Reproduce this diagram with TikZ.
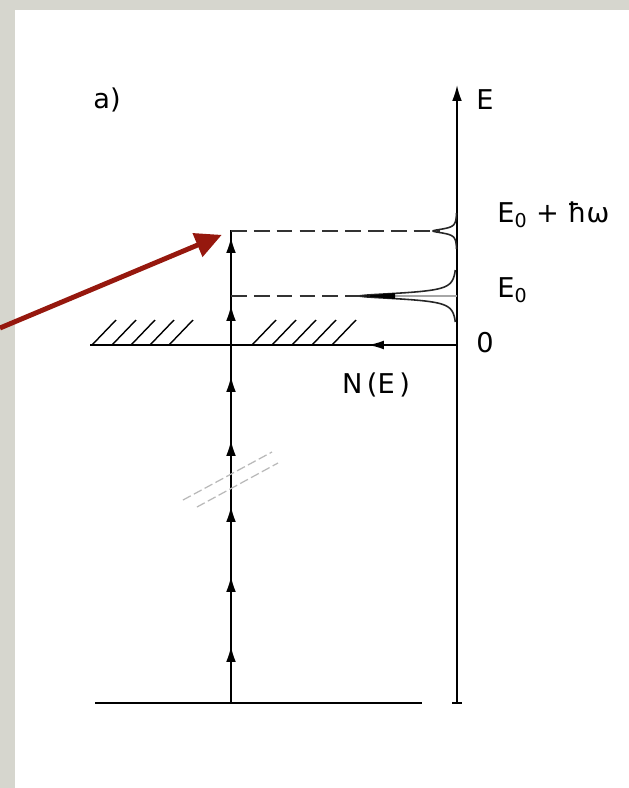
\documentclass[tikz,border=0pt]{standalone}
\usepackage{fontspec}
\setmainfont{DejaVu Sans}
\usepackage{tikz}
\usetikzlibrary{arrows.meta, calc}
\definecolor{bggray}{RGB}{214,214,206}
\definecolor{markred}{RGB}{150,24,14}
\tikzset{
    lbl/.style={font=\fontsize{15.5}{18}\selectfont, inner sep=0pt},
    lvl/.style={line width=1pt, dash pattern=on 9pt off 4pt, black!80},
    peak/.style={line width=0.9pt, black!85},
    hatch/.style={line width=0.8pt},
    uptip/.style={line width=1pt, -{Latex[length=9pt, width=5.5pt]}}
}

\begin{document}
\begin{tikzpicture}[x=0.02cm, y=-0.02cm]
    \useasboundingbox (0,0) rectangle (629,788);
    \fill[bggray] (0,0) rectangle (629,788);
    \fill[white] (15,10) rectangle (629,788);

    % --- axes and ground level ---
    \coordinate (axtop) at (457,85);
    \coordinate (axbot) at (457,703);
    \coordinate (axzero) at (457,345);
    \coordinate (gndL) at (95,703);
    \coordinate (gndR) at (422,703);
    \coordinate (zeroL) at (90,345);
    \coordinate (exctop) at (231,231);
    \coordinate (excbot) at (231,703);
    \coordinate (pointer) at (0,328);

    \draw[line width=1pt, -{Latex[length=9pt, width=5.5pt]}] (axbot) -- (axtop);
    \draw[line width=1pt] ($(axbot)+(-5,0)$) -- ($(axbot)+(5,0)$);
    \draw[line width=1.1pt] (gndL) -- (gndR);
    \draw[line width=1pt] (zeroL) -- (axzero);
    \draw[line width=1pt, -{Latex[length=9pt, width=5pt]}] (axzero) -- (368,345);

    % hatching above the zero level
    \foreach \x in {92,112,131,150,169,252,272,292,312,332}
        \draw[hatch] (\x,345) -- ++(24,-25);

    % --- excitation ladder ---
    \draw[line width=1pt] (excbot) -- (exctop) -- ++(10,0);
    \draw[line width=1pt] (231,296) -- ++(10,0);
    \foreach \y in {237,305,376,440,506,576,646}
        \draw[uptip] (231,\y+12) -- (231,\y);

    % break mark
    \draw[gray!55, line width=0.7pt, dash pattern=on 5pt off 2pt] (183,500) -- (272,452);
    \draw[gray!55, line width=0.7pt, dash pattern=on 5pt off 2pt] (197,507) -- (278,463);

    % --- levels and line shapes ---
    \draw[lvl] (exctop) -- (440,231);
    \draw[lvl] (231,296) -- (362,296);
    \draw[gray!70, line width=0.8pt] (362,296) -- (457,296);
    \draw[peak] plot[domain=270:322, samples=90] ({457 - 97/(1+(\x-296)*(\x-296)/12.25)}, \x);
    \draw[peak] plot[domain=213:249, samples=70] ({457 - 24/(1+(\x-231)*(\x-231)/6.25)}, \x);
    \fill[black] (362,296) -- (395,293) -- (395,299) -- cycle;

    % --- labels ---
    \node[lbl] (tagA) at (107,100) {a)};
    \node[lbl] (tagE) at (485,100) {E};
    \node[lbl, anchor=west] (tagExc) at (497,215) {E\textsubscript{0} + ħω};
    \node[lbl, anchor=west] (tagE0) at (497,290) {E\textsubscript{0}};
    \node[lbl] (tagZero) at (485,343) {0};
    \node[lbl] (tagNE) at (376,385) {N\,(E\,)};

    % pointer
    \draw[markred, line width=2.8pt, -{Triangle[length=15pt, width=14pt]}, shorten >=0.2cm] (pointer) -- (exctop);
\end{tikzpicture}
\end{document}
